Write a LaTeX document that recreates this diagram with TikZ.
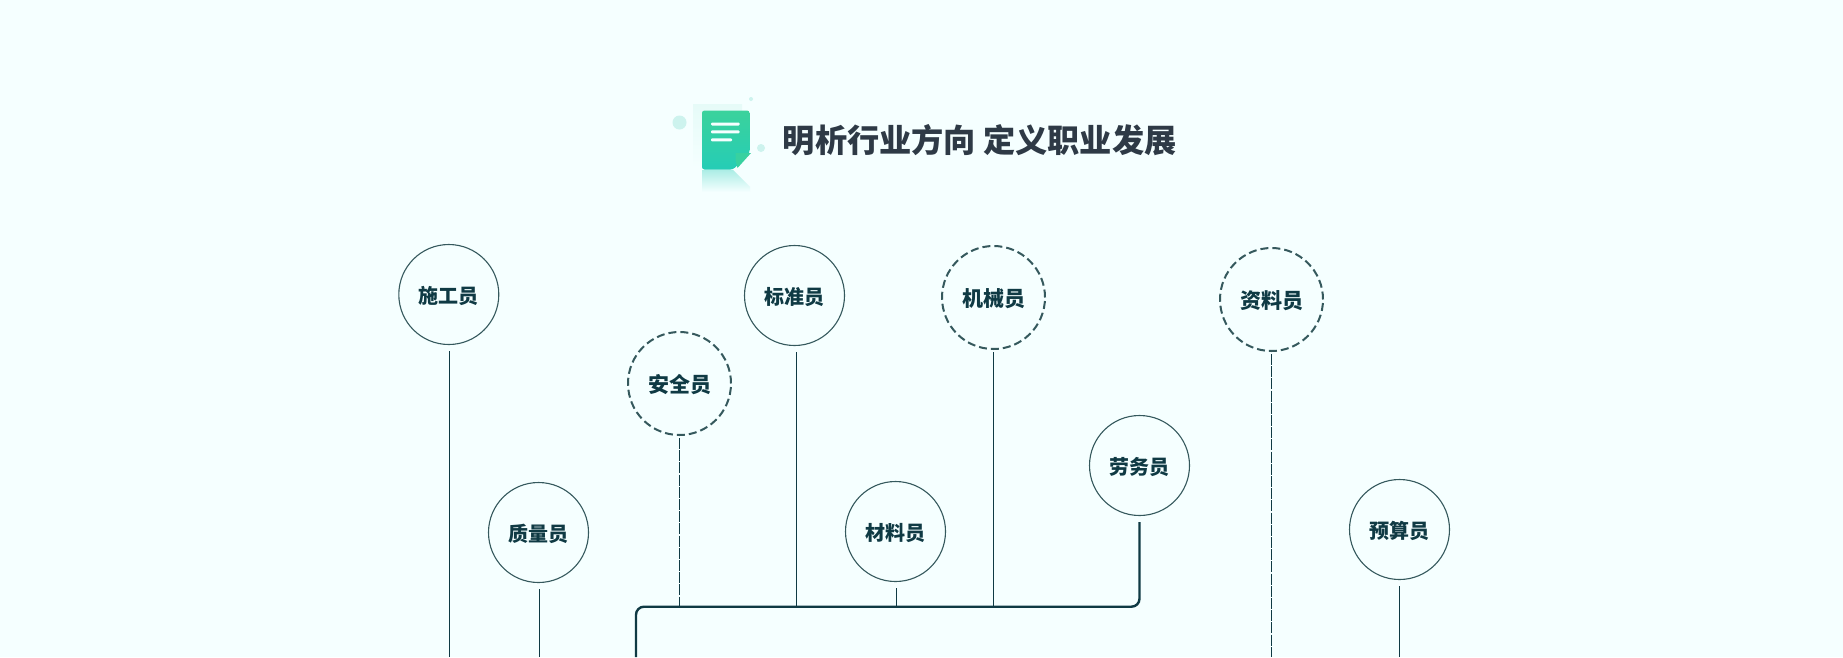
\documentclass[tikz,border=0pt]{standalone}
\usepackage{fontspec}
\setmainfont{Noto Sans CJK SC}
\usetikzlibrary{positioning}
\definecolor{pagebg}{HTML}{F5FFFF}
\definecolor{inkteal}{HTML}{0F3A44}
\definecolor{ringgrey}{HTML}{35595D}
\definecolor{titleink}{HTML}{2E3A46}
\definecolor{docgreen}{HTML}{3BD29C}
\definecolor{docteal}{HTML}{25CDB6}
\definecolor{docpale}{HTML}{E6FBF8}
\definecolor{dotpale}{HTML}{CDF3EE}
\tikzset{
  rolebox/.style  = {circle, draw=ringgrey, line width=1.1pt, minimum size=100pt,
                     inner sep=0pt, outer sep=0pt, text=inkteal, text height=22pt, text depth=4pt,
                     font=\fontsize{20}{20}\selectfont\bfseries},
  rolecut/.style  = {rolebox, minimum size=103pt, line width=2pt,
                     dash pattern=on 8pt off 4pt,
                     font=\fontsize{21}{21}\selectfont\bfseries},
  riser/.style    = {draw=inkteal, line width=1.3pt, shorten <=6.5pt},
  risercut/.style = {riser, line width=1.6pt, dash pattern=on 11pt off 1.2pt},
  trunk/.style    = {draw=inkteal, line width=2.4pt, shorten <=6.5pt, rounded corners=8pt},
}
\begin{document}
\begin{tikzpicture}[x=1pt,y=-1pt]
    \fill[pagebg] (0,0) rectangle (1843,657);
    \useasboundingbox (0,0) rectangle (1843,657);
    % icon
    \fill[dotpale] (679.5,122.5) circle (7);
    \fill[dotpale] (761,148) circle (4);
    \fill[dotpale] (751,99) circle (2);
    \shade[top color=docpale,bottom color=pagebg] (693,104) rectangle (742,168);
    \shade[top color=docteal!35!pagebg,bottom color=pagebg]
      (702,170) -- (733,170) -- (750,187) -- (750,192) -- (702,192) -- cycle;
    \shade[top color=docgreen,bottom color=docteal,rounded corners=2.5pt]
      (702,110.5) -- (749.5,110.5) -- (749.5,153) -- (733,169.5) -- (702,169.5) -- cycle;
    \fill[docgreen!85!docteal] (735.5,153) -- (751,153) -- (737.5,168) -- (735.5,160) -- cycle;
    \fill[pagebg,rounded corners=1pt] (711,122.5) rectangle (739.5,125.5);
    \fill[pagebg,rounded corners=1pt] (711,130.3) rectangle (739.5,133.3);
    \fill[pagebg,rounded corners=1pt] (711,138.3) rectangle (732,141.3);
    \node[text=titleink,font=\fontsize{32.2}{32}\selectfont\bfseries,anchor=center] (title) at (979.7,140)
      {明析行业方向 定义职业发展};
    % roles
    \node[rolebox] (sg) at (448.8,294.5) {施工员};
    \node[rolebox] (zl) at (538.5,532.5) {质量员};
    \node[rolecut] (aq) at (679.5,383.5) {安全员};
    \node[rolebox] (bz) at (794.5,295.5) {标准员};
    \node[rolebox] (cl) at (895.5,531.5) {材料员};
    \node[rolecut] (jx) at (993.5,297.5) {机械员};
    \node[rolebox] (lw) at (1139.5,465.5) {劳务员};
    \node[rolecut] (zi) at (1271.5,299.5) {资料员};
    \node[rolebox] (ys) at (1399.5,529.5) {预算员};
    % free ends
    \coordinate (foot) at (636,657);
    \coordinate (bus) at (636,606.7);
    \draw[riser] ([xshift=.7pt]sg.south) -- ([xshift=.7pt]sg.south |- foot);
    \draw[riser] ([xshift=1pt]zl.south) -- ([xshift=1pt]zl.south |- foot);
    \draw[riser] (ys.south) -- (ys.south |- foot);
    \draw[risercut,shorten <=3pt] (zi.south) -- (zi.south |- foot);
    \draw[risercut,shorten <=3pt] (aq.south) -- (aq.south |- bus);
    \draw[riser] ([xshift=2pt]bz.south) -- ([xshift=2pt]bz.south |- bus);
    \draw[riser] ([xshift=1pt]cl.south) -- ([xshift=1pt]cl.south |- bus);
    \draw[riser,shorten <=3pt] (jx.south) -- (jx.south |- bus);
    \draw[trunk] (lw.south) |- (bus) -- (foot);
  \end{tikzpicture}
\end{document}
